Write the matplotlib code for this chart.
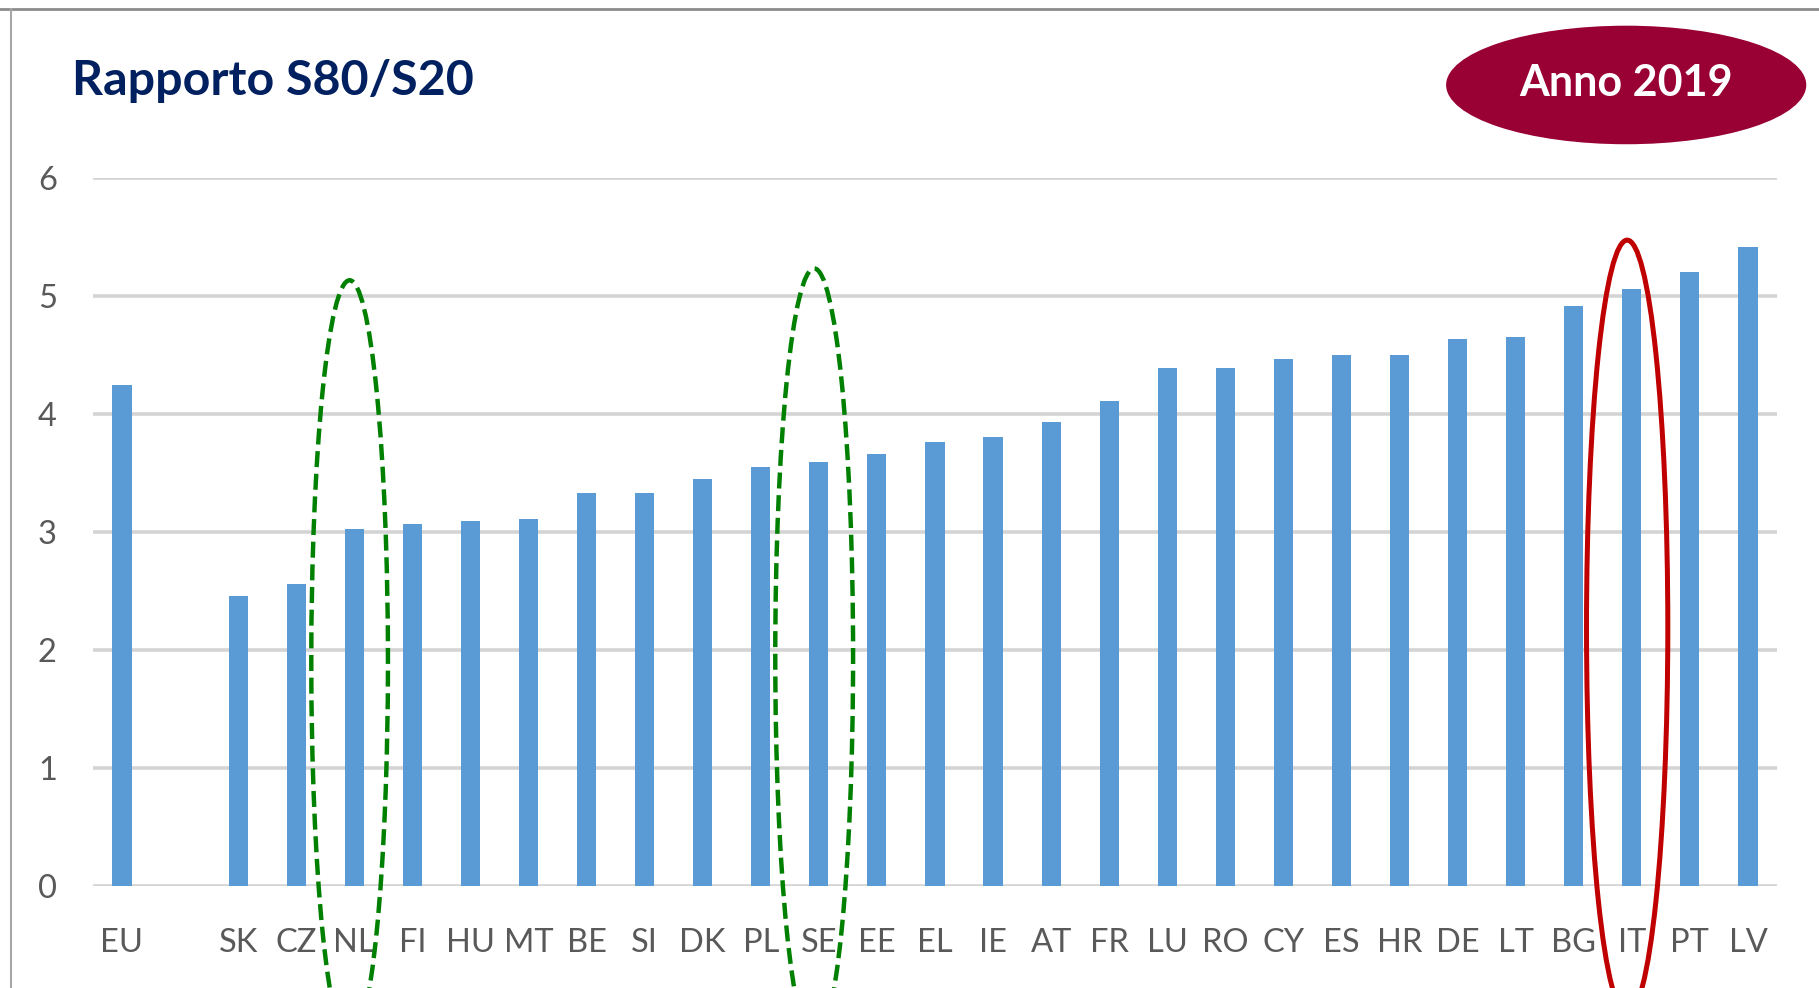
import matplotlib

matplotlib.use("Agg")
import matplotlib.pyplot as plt
import numpy as np
from matplotlib.lines import Line2D
from matplotlib.patches import Ellipse

# S80/S20 ratio, year 2019 (EU first, then countries sorted ascending)
countries = ["EU", "", "SK", "CZ", "NL", "FI", "HU", "MT", "BE", "SI", "DK", "PL", "SE",
             "EE", "EL", "IE", "AT", "FR", "LU", "RO", "CY", "ES", "HR", "DE", "LT",
             "BG", "IT", "PT", "LV"]
ratios = [4.24, np.nan, 2.46, 2.56, 3.02, 3.07, 3.09, 3.11, 3.33, 3.33, 3.45, 3.55, 3.59,
          3.66, 3.76, 3.80, 3.93, 4.11, 4.39, 4.39, 4.46, 4.50, 4.50, 4.63, 4.65,
          4.91, 5.06, 5.20, 5.41]
y_ticks = [0, 1, 2, 3, 4, 5, 6]

# highlighted countries: colour, linestyle, ellipse centre y / height / width (data units)
highlights = {
    "NL": ("#008000", (0, (3.6, 1.5)), 1.90, 6.46, 1.32),
    "SE": ("#008000", (0, (3.6, 1.5)), 1.95, 6.56, 1.34),
    "IT": ("#C00000", "-", 2.19, 6.56, 1.40),
}

BAR_COLOR = "#5B9BD5"
GRID_COLOR = "#D4D4D4"
TICK_COLOR = "#595959"
TITLE_COLOR = "#002060"
BADGE_COLOR = "#990033"

fig = plt.figure(figsize=(18.19, 9.88), dpi=100)
ax = fig.add_axes([0.0511, 0.1032, 0.9258, 0.7171])

x = np.arange(len(countries))
ax.bar(x, ratios, width=0.33, color=BAR_COLOR, zorder=3)

ax.set_xlim(-0.5, len(countries) - 0.5)
ax.set_ylim(0, 6)
ax.set_yticks(y_ticks)
ax.set_xticks(x, countries)
for y in y_ticks:
    ax.axhline(y, color=GRID_COLOR, linewidth=2.6, zorder=1)

for side in ("top", "right", "left", "bottom"):
    ax.spines[side].set_visible(False)
ax.tick_params(axis="both", length=0, colors=TICK_COLOR, labelsize=23.5)
ax.tick_params(axis="y", pad=26)
ax.tick_params(axis="x", pad=30)
for lab in ax.get_xticklabels() + ax.get_yticklabels():
    lab.set_family(["Lato", "DejaVu Sans"])

for name, (color, ls, yc, h, w) in highlights.items():
    i = countries.index(name)
    ax.add_patch(Ellipse((i - 0.08, yc), w, h, fill=False, edgecolor=color,
                         linestyle=ls, linewidth=3.6 if ls == "-" else 3.2,
                         clip_on=False, zorder=5))

fig.text(0.0396, 0.918, "Rapporto S80/S20", fontsize=34.8, fontweight="bold",
         color=TITLE_COLOR, family=["Lato", "DejaVu Sans"], va="center", ha="left")

badge = Ellipse((0.894, 0.914), 0.198, 0.120, transform=fig.transFigure,
                facecolor=BADGE_COLOR, edgecolor="none")
fig.add_artist(badge)
fig.text(0.894, 0.916, "Anno 2019", fontsize=31, fontweight="bold", color="white",
         family=["Lato", "DejaVu Sans"], va="center", ha="center")

# slide frame
fig.add_artist(Line2D([0, 1], [0.991, 0.991], transform=fig.transFigure,
                      color="#8C8C8C", linewidth=2))
fig.add_artist(Line2D([0.0060, 0.0060], [0, 0.991], transform=fig.transFigure,
                      color="#A6A6A6", linewidth=1.5))

fig.savefig("out.png", dpi=100)
